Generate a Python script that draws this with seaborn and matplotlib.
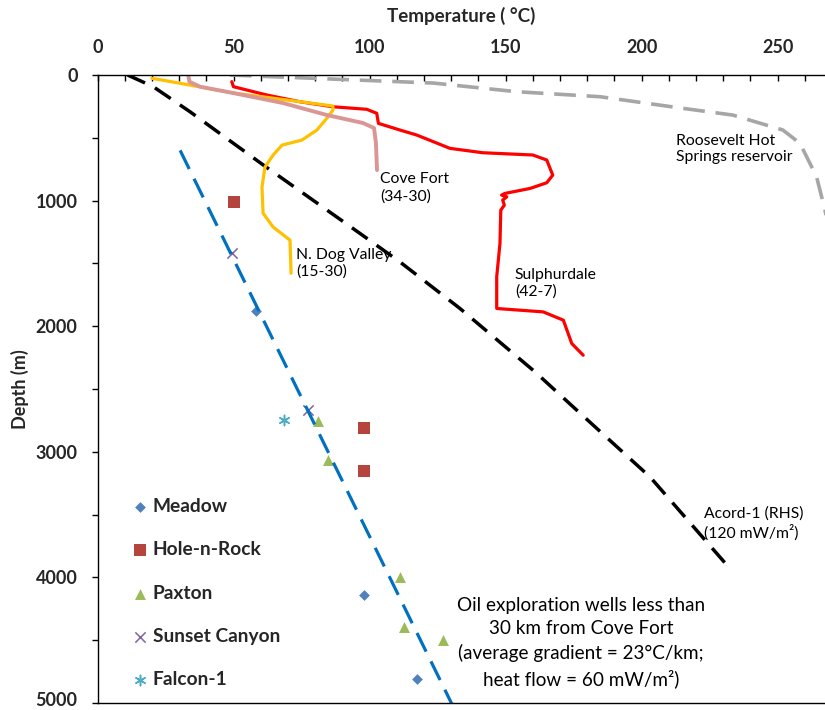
import numpy as np
import pandas as pd
import matplotlib
matplotlib.use("Agg")
import matplotlib.pyplot as plt
import matplotlib.transforms as mtransforms
import seaborn as sns
from matplotlib.ticker import MultipleLocator

# ---------------- data ----------------
acord_T = [11.0, 20.4, 33.9, 60.9, 96.4, 111.1, 133.2, 160.8, 175.5, 203.1, 232.5]
acord_D = [0, 93, 292, 717, 1261, 1488, 1859, 2364, 2656, 3201, 3931]

trend_T = [30.3, 130.3]
trend_D = [600, 5012]

roosevelt_T = [48.6, 69.5, 123.3, 154.0, 184.7, 215.0, 233.5, 251.9, 258.2, 264.3, 267.4, 270.0]
roosevelt_D = [0, 18, 64, 133, 173, 265, 319, 438, 544, 810, 1076, 1355]

sulphur_T = [49.3, 49.9, 62.1, 74.4, 86.5, 98.9, 102.6, 103.2, 111.1, 117.3, 129.5, 141.6, 160.0,
             165.1, 167.3, 165.1, 159.0, 149.7, 148.5, 150.4, 148.9, 149.5, 148.2, 147.9, 146.7,
             146.7, 163.8, 171.2, 174.3, 178.5]
sulphur_D = [53, 93, 159, 213, 253, 273, 305, 385, 438, 478, 584, 619, 637,
             677, 797, 858, 903, 943, 956, 970, 996, 1036, 1076, 1341, 1607,
             1859, 1886, 1952, 2138, 2231]

dog_T = [19.9, 30.3, 49.7, 69.6, 86.5, 86.5, 84.3, 80.6, 75.1, 67.8, 64.5, 61.5, 60.4, 60.8, 64.5, 70.7, 71.1]
dog_D = [26, 66, 143, 199, 247, 279, 343, 438, 518, 558, 637, 733, 892, 1100, 1211, 1315, 1578]

cove_T = [33.3, 33.7, 37.6, 49.7, 68.1, 84.3, 97.5, 101.6, 102.3, 102.7]
cove_D = [0, 53, 93, 143, 223, 319, 382, 422, 542, 757]

meadow_T = [58.2, 97.9, 117.4]
meadow_D = [1880, 4143, 4805]
hole_T = [50.1, 97.9, 97.9]
hole_D = [1012, 2813, 3155]
paxton_T = [81.0, 84.7, 111.1, 112.6, 127.0]
paxton_D = [2757, 3068, 3998, 4398, 4502]
sunset_T = [49.4, 77.3]
sunset_D = [1418, 2669]
falcon_T = [68.5]
falcon_D = [2749]

x_ticks = [0, 50, 100, 150, 200, 250]
y_ticks = [0, 1000, 2000, 3000, 4000, 5000]

# ---------------- style ----------------
sns.set_style("white")
plt.rcParams["font.family"] = ["Lato", "DejaVu Sans"]

fig = plt.figure(figsize=(8.25, 7.1), dpi=100)
ax = fig.add_axes([97.7 / 825, 1 - 703 / 710, (825 - 97.7) / 825, (703 - 75) / 710])


def line(T, D, color, lw, dash=None):
    df = pd.DataFrame({"T": T, "D": D})
    sns.lineplot(data=df, x="T", y="D", sort=False, estimator=None, color=color,
                 linewidth=lw, ax=ax, legend=False)
    ln = ax.lines[-1]
    if dash is not None:
        ln.set_linestyle((0, dash))
    ln.set_solid_joinstyle("round")
    return ln


line(roosevelt_T, roosevelt_D, "#A6A6A6", 2.6, (6.0, 3.0))
line(acord_T, acord_D, "black", 2.5, (5.5, 3.2))
line(trend_T, trend_D, "#0070C0", 2.3, (6.5, 3.4))
line(sulphur_T, sulphur_D, "#FF0000", 2.3)
line(dog_T, dog_D, "#FFC000", 2.3)
line(cove_T, cove_D, "#D99694", 2.8)

for T, D, m, c, s, lab in [
    (meadow_T, meadow_D, "D", "#4F81BD", 30, "Meadow"),
    (hole_T, hole_D, "s", "#B5443F", 72, "Hole-n-Rock"),
    (paxton_T, paxton_D, "^", "#9BBB59", 62, "Paxton"),
]:
    sns.scatterplot(x=T, y=D, marker=m, color=c, s=s, linewidth=0, ax=ax, label=lab)
for T, D, m, c, s, lab in [
    (sunset_T, sunset_D, "x", "#8064A2", 55, "Sunset Canyon"),
    (falcon_T, falcon_D, (6, 2, 0), "#4BACC6", 55, "Falcon-1"),
]:
    sns.scatterplot(x=T, y=D, marker=m, color=c, edgecolor=c, s=s, linewidth=1.1, ax=ax, label=lab)

# ---------------- axes ----------------
ax.set_xlim(0, 267.4)
ax.set_ylim(5000, 0)
ax.xaxis.tick_top()
ax.xaxis.set_label_position("top")
ax.set_xticks(x_ticks)
ax.xaxis.set_minor_locator(MultipleLocator(10))
ax.set_yticks(y_ticks)
ax.yaxis.set_minor_locator(MultipleLocator(500))
ax.tick_params(axis="x", which="both", direction="in", length=4, width=1, color="black",
               top=True, bottom=False, pad=14, labelsize=13)
ax.tick_params(axis="y", which="both", direction="out", length=4.5, width=1, color="black",
               left=True, pad=10, labelsize=13)
for lab in ax.get_xticklabels() + ax.get_yticklabels():
    lab.set_fontweight("bold")
# nudge the bottom label up a little so it stays inside the figure
last = ax.get_yticklabels()[-1]
last.set_transform(last.get_transform() + mtransforms.ScaledTranslation(0, 3 / 72, fig.dpi_scale_trans))

ax.set_xlabel("Temperature ( °C)", fontsize=13.5, fontweight="bold", labelpad=12)
ax.set_ylabel("Depth (m)", fontsize=13, fontweight="bold", labelpad=5)
for side in ["left", "top", "bottom"]:
    ax.spines[side].set_color("black")
    ax.spines[side].set_linewidth(1.0)
ax.spines["right"].set_visible(False)

leg = ax.legend(loc="upper left", bbox_to_anchor=(0.048, 0.327), frameon=False,
                prop={"weight": "bold", "size": 13.8}, handlelength=0.75,
                handletextpad=0.3, labelspacing=1.38, borderpad=0, borderaxespad=0)

# ---------------- annotations ----------------
tk = dict(fontsize=11.3, color="black", va="center", ha="left", linespacing=1.25)
ax.text(103.8, 900, "Cove Fort\n(34-30)", **tk)
ax.text(73.0, 1498, "N. Dog Valley\n(15-30)", **tk)
ax.text(153.4, 1657, "Sulphurdale\n(42-7)", **tk)
ax.text(212.6, 590, "Roosevelt Hot\nSprings reservoir", **tk)
ax.text(223.0, 3570, "Acord-1 (RHS)\n(120 mW/m²)", **tk)
ax.text(177.7, 4518, "Oil exploration wells less than\n30 km from Cove Fort\n(average gradient = 23°C/km;\nheat flow = 60 mW/m²)",
        fontsize=13.6, color="black", va="center", ha="center", linespacing=1.45)

fig.savefig("out.png", dpi=100)
